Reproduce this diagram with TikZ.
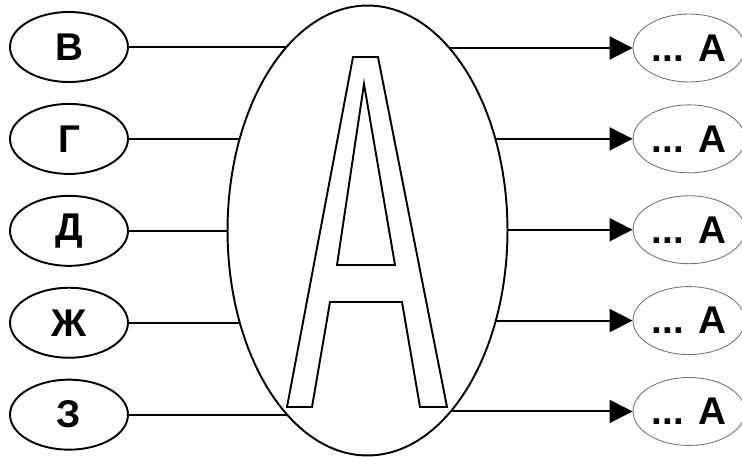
\documentclass[tikz,border=0pt]{standalone}
\usepackage{fontspec}
\setmainfont{Liberation Sans}
\usetikzlibrary{shapes,arrows.meta,positioning,calc,backgrounds}

\tikzset{
  inbox/.style={ellipse,draw,line width=1.1pt,inner sep=0,
    minimum width=2.36cm,minimum height=1.4cm},
  outbox/.style={ellipse,draw=black!55,line width=0.5pt,inner sep=0,
    minimum width=2.24cm,minimum height=1.36cm},
  lbl/.style={font=\fontsize{22}{26}\selectfont\bfseries},
  wire/.style={line width=1.1pt},
  tip/.style={wire,-{Triangle[length=0.46cm,width=0.46cm]}}
}

\begin{document}
\begin{tikzpicture}[x=0.02cm,y=-0.02cm,line width=1.1pt]
\useasboundingbox (0,0) rectangle (742,456);

% big ellipse in the middle
\node[ellipse,draw,fill=white,inner sep=0,minimum width=5.6cm,minimum height=9cm] (A) at (367.5,230.5) {};

% inputs
\node[inbox,lbl] (v) at (69,47) {В};
\node[inbox,lbl,below=0.4cm of v] (g) {Г};
\node[inbox,lbl,below=0.4cm of g] (d) {Д};
\node[inbox,lbl,below=0.4cm of d] (zh) {Ж};
\node[inbox,lbl,below=0.4cm of zh] (z) {З};

% outputs
\node[outbox,lbl] (ov) at (689,48) {... A};
\node[outbox,lbl,below=0.44cm of ov] (og) {... A};
\node[outbox,lbl,below=0.44cm of og] (od) {... A};
\node[outbox,lbl,below=0.44cm of od] (ozh) {... A};
\node[outbox,lbl,below=0.44cm of ozh] (oz) {... A};

% the letter
\draw[line join=miter] (287,407) -- (353,57) -- (378,57) -- (447,407) -- (420,407)
  -- (402,302) -- (330,302) -- (312,407) -- cycle;
\draw[line join=miter] (364,84) -- (395,265) -- (337,265) -- cycle;

\begin{pgfonlayer}{background}
  \draw[wire] (v.east) -- (v -| A);
  \draw[wire] (g.east) -- (g -| A);
  \draw[wire] (d.east) -- (d -| A);
  \draw[wire] (zh.east) -- (zh -| A);
  \draw[wire] (z.east) -- (z -| A);
  \draw[tip] (ov -| A) -- (ov.west);
  \draw[tip] (og -| A) -- (og.west);
  \draw[tip] (od -| A) -- (od.west);
  \draw[tip] (ozh -| A) -- (ozh.west);
  \draw[tip] (oz -| A) -- (oz.west);
\end{pgfonlayer}

\end{tikzpicture}
\end{document}
